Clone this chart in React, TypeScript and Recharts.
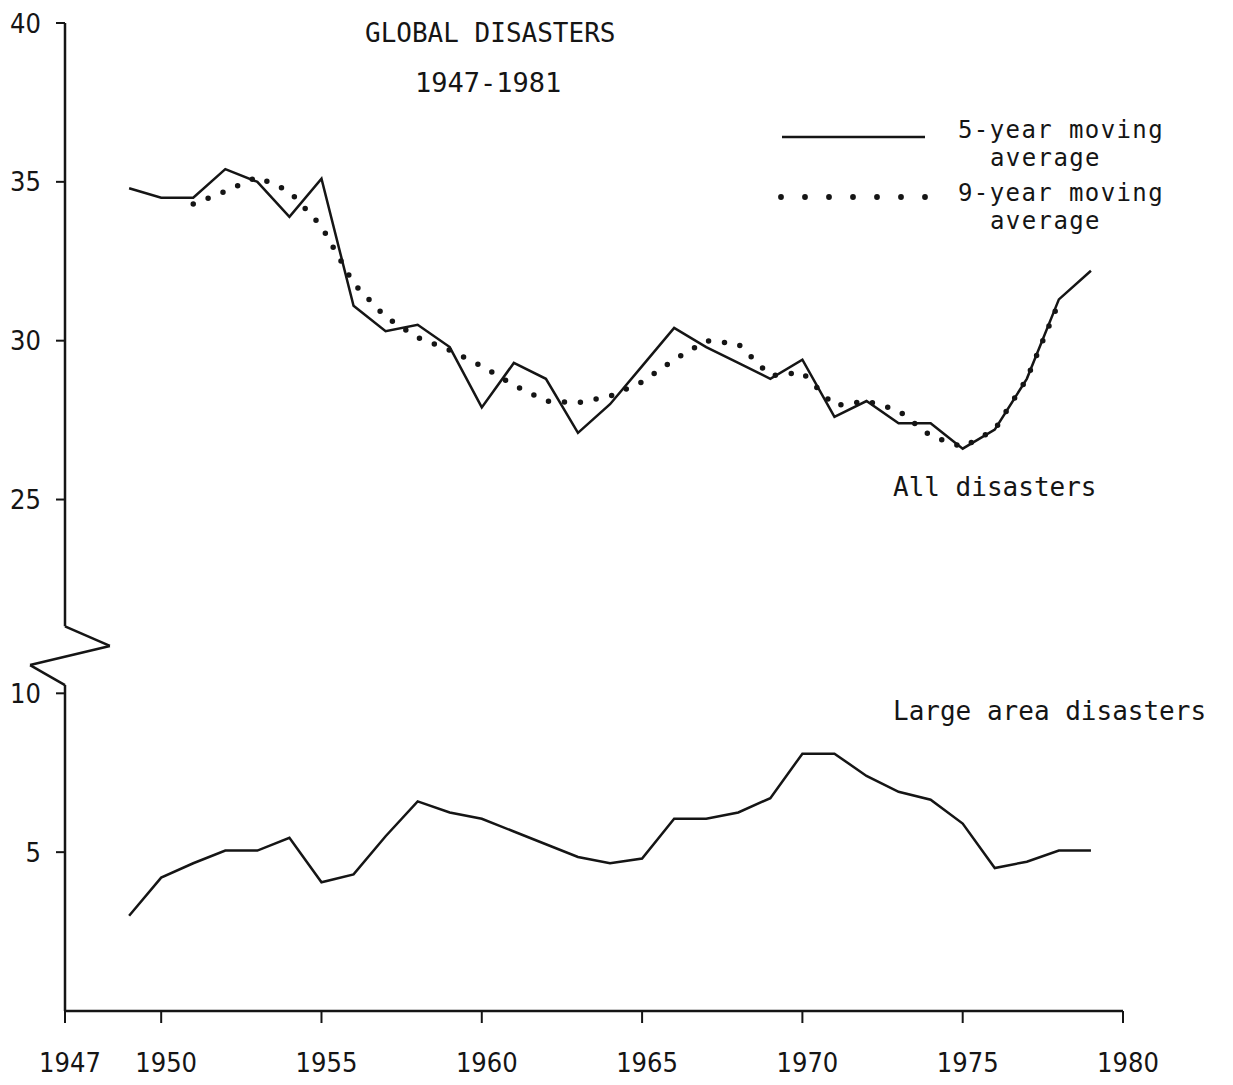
import React from 'react';
import { LineChart, Line, XAxis, YAxis, ReferenceLine } from 'recharts';

// years covered by the 5-year averages and the large-area series
const years = [
  1949, 1950, 1951, 1952, 1953, 1954, 1955, 1956, 1957, 1958, 1959, 1960, 1961, 1962, 1963, 1964,
  1965, 1966, 1967, 1968, 1969, 1970, 1971, 1972, 1973, 1974, 1975, 1976, 1977, 1978, 1979,
];

// All disasters, 5-year moving average
const allFiveYear = [
  34.8, 34.5, 34.5, 35.4, 35.0, 33.9, 35.1, 31.1, 30.3, 30.5, 29.8, 27.9, 29.3, 28.8, 27.1, 28.0,
  29.2, 30.4, 29.8, 29.3, 28.8, 29.4, 27.6, 28.1, 27.4, 27.4, 26.6, 27.2, 28.8, 31.3, 32.2,
];

// All disasters, 9-year moving average (1951 - 1978)
const nineYearStart = 1951;
const allNineYear = [
  34.3, 34.7, 35.15, 34.7, 33.6, 31.8, 30.75, 30.1, 29.7, 29.2, 28.6, 28.1, 28.05, 28.25,
  28.7, 29.4, 30.0, 29.9, 28.9, 29.0, 27.95, 28.1, 27.8, 27.0, 26.65, 27.2, 28.8, 31.2,
];

// Large area disasters, 5-year moving average
const largeArea = [
  3.0, 4.2, 4.65, 5.05, 5.05, 5.45, 4.05, 4.3, 5.5, 6.6, 6.25, 6.05, 5.65, 5.25, 4.85, 4.65,
  4.8, 6.05, 6.05, 6.25, 6.7, 8.1, 8.1, 7.4, 6.9, 6.65, 5.9, 4.5, 4.7, 5.05, 5.05,
];

const xTicks = [1947, 1950, 1955, 1960, 1965, 1970, 1975, 1980];
const yTickValues = [5, 10, 25, 30, 35, 40];

// the axis is broken between 10 and 25: values above the break are drawn this much lower
const BREAK_SHIFT = 8.9;
const BREAK_AT = 12;
const toPlot = (v: number) => (v > BREAK_AT ? v - BREAK_SHIFT : v);
const fromPlot = (v: number) => (v > BREAK_AT ? Math.round(v + BREAK_SHIFT) : Math.round(v));

// y axis drawn by hand, with the zig-zag break
const axisTrace = [
  { x: 1947, y: 40 - BREAK_SHIFT },
  { x: 1947, y: 12.11 },
  { x: 1948.4, y: 11.49 },
  { x: 1945.91, y: 10.89 },
  { x: 1947, y: 10.26 },
  { x: 1947, y: 0 },
];

const rows = years.map((year, i) => {
  const k = year - nineYearStart;
  return {
    year,
    all5: toPlot(allFiveYear[i]),
    all9: k >= 0 && k < allNineYear.length ? toPlot(allNineYear[k]) : null,
    large: largeArea[i],
  };
});

const INK = '#151515';
const monoFont = "'DejaVu Sans Mono', 'Liberation Mono', monospace";
const tickFont = "'DejaVu Sans Condensed', 'DejaVu Sans', sans-serif";

const App: React.FC = () => {
  const tickStyle = { fill: INK, fontSize: 27, fontFamily: tickFont };
  const legendText = { fontSize: 24, letterSpacing: 1.4 };

  return (
    <div style={{ position: 'absolute', left: 0, top: 0, width: 1233, height: 1085, background: '#fff' }}>
      <LineChart width={1233} height={1085} data={rows} margin={{ top: 23, right: 110, bottom: 14, left: 10 }}>
        <XAxis
          dataKey="year"
          type="number"
          domain={[1947, 1980]}
          ticks={xTicks}
          interval={0}
          height={60}
          stroke={INK}
          strokeWidth={2.5}
          tickSize={12}
          tickMargin={30}
          tick={{ ...tickStyle, dx: 5 }}
          tickLine={{ stroke: INK, strokeWidth: 2 }}
        />
        <YAxis
          type="number"
          domain={[0, 40 - BREAK_SHIFT]}
          ticks={yTickValues.map(toPlot)}
          interval={0}
          width={55}
          axisLine={false}
          tickSize={9}
          tickMargin={15}
          tick={tickStyle}
          tickLine={{ stroke: INK, strokeWidth: 2 }}
          tickFormatter={(v: number) => String(fromPlot(v))}
        />

        {axisTrace.slice(1).map((p, i) => (
          <ReferenceLine
            key={i}
            segment={[axisTrace[i], p]}
            stroke={INK}
            strokeWidth={2.5}
            ifOverflow="visible"
          />
        ))}

        <Line
          type="linear"
          dataKey="all9"
          stroke={INK}
          strokeWidth={5.5}
          strokeDasharray="0 16"
          strokeLinecap="round"
          dot={false}
          activeDot={false}
          isAnimationActive={false}
        />
        <Line
          type="linear"
          dataKey="all5"
          stroke={INK}
          strokeWidth={2.5}
          dot={false}
          activeDot={false}
          isAnimationActive={false}
        />
        <Line
          type="linear"
          dataKey="large"
          stroke={INK}
          strokeWidth={2.5}
          dot={false}
          activeDot={false}
          isAnimationActive={false}
        />
      </LineChart>

      {/* title, legend and series labels */}
      <svg
        width={1233}
        height={1085}
        style={{ position: 'absolute', left: 0, top: 0, pointerEvents: 'none' }}
        fontFamily={monoFont}
        fontSize={26}
        fill={INK}
      >
        <text x={365} y={42}>GLOBAL DISASTERS</text>
        <text x={415} y={92} fontSize={27}>1947-1981</text>

        <line x1={782} y1={137} x2={925} y2={137} stroke={INK} strokeWidth={2.5} />
        <text x={958} y={138} {...legendText}>5-year moving</text>
        <text x={990} y={166} {...legendText}>average</text>

        {[0, 1, 2, 3, 4, 5, 6].map((i) => (
          <circle key={i} cx={781 + i * 24} cy={197} r={2.9} fill={INK} />
        ))}
        <text x={958} y={201} {...legendText}>9-year moving</text>
        <text x={990} y={229} {...legendText}>average</text>

        <text x={893} y={496}>All disasters</text>
        <text x={893} y={720}>Large area disasters</text>
      </svg>
    </div>
  );
};

export default App;
